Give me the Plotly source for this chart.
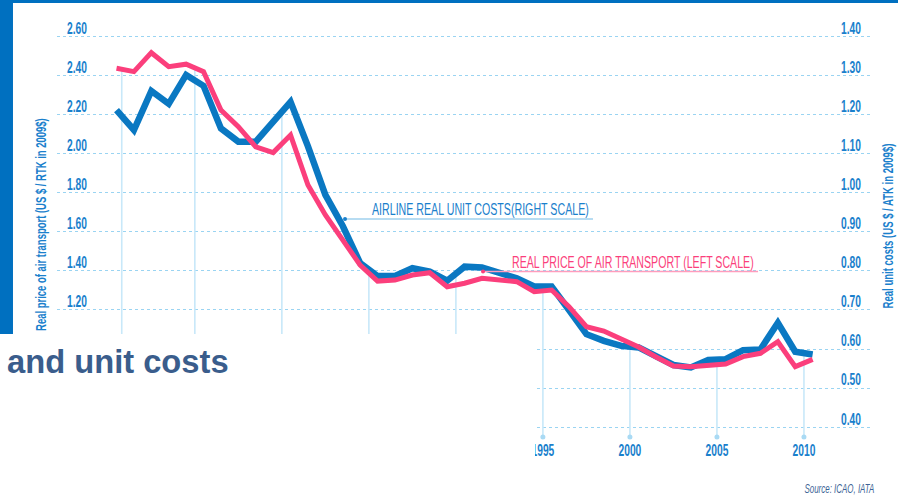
import numpy as np
import plotly.graph_objects as go

# Annual series, 1970-2010
years = list(range(1970, 2011))
unit_costs = [1.212, 1.161, 1.261, 1.228, 1.302, 1.274, 1.165, 1.131, 1.131, 1.182,
              1.233, 1.119, 0.995, 0.915, 0.820, 0.787, 0.787, 0.807, 0.798, 0.775,
              0.811, 0.809, 0.797, 0.781, 0.760, 0.760, 0.700, 0.638, 0.621, 0.608,
              0.604, 0.582, 0.559, 0.553, 0.572, 0.574, 0.597, 0.599, 0.667, 0.593, 0.586]
real_price = [2.438, 2.421, 2.518, 2.446, 2.459, 2.421, 2.224, 2.139, 2.036, 2.006,
              2.096, 1.840, 1.687, 1.558, 1.430, 1.348, 1.353, 1.379, 1.391, 1.319,
              1.337, 1.362, 1.353, 1.345, 1.294, 1.302, 1.217, 1.114, 1.092, 1.051,
              1.010, 0.959, 0.913, 0.909, 0.918, 0.923, 0.961, 0.978, 1.037, 0.910, 0.947]

# Axis ticks
x_tick_years = [1975, 1980, 1985, 1990, 1995, 2000, 2005, 2010]
x_tick_labels = ["1975", "1980", "1985", "1990", "1995", "2000", "2005", "2010"]
left_ticks = [1.2, 1.4, 1.6, 1.8, 2.0, 2.2, 2.4, 2.6]
left_tick_labels = ["1.20", "1.40", "1.60", "1.80", "2.00", "2.20", "2.40", "2.60"]
right_ticks = [0.4, 0.5, 0.6, 0.7, 0.8, 0.9, 1.0, 1.1, 1.2, 1.3, 1.4]
right_tick_labels = ["0.40", "0.50", "0.60", "0.70", "0.80", "0.90", "1.00", "1.10", "1.20", "1.30", "1.40"]
drop_years = [1970.8, 1975, 1980, 1985, 1990, 1995, 2000, 2005, 2010]

BLUE = "#0a78c2"
PINK = "#fb3f7c"
TXT_BLUE = "#1a80cc"
DROP = "#c8e8f9"
GRID = "#9ad4f2"
SANS = "Liberation Sans, Arial, sans-serif"

# annual values are plotted at mid-year
xs = np.array(years) + 0.5

# axis ranges (left scale = 2 * right scale - 0.2)
X0, X1 = 1967.08, 2013.91
L0, L1 = 0.5493, 2.711
R0, R1 = (L0 + 0.2) / 2, (L1 + 0.2) / 2


def to_right(v):
    return (np.asarray(v) + 0.2) / 2


fig = go.Figure()

# drop lines from the upper curve down to the axis
drop_x, drop_y = [], []
for d in drop_years:
    top = max(np.interp(d, xs, unit_costs), np.interp(d, xs, to_right(real_price)))
    drop_x += [d, d, None]
    drop_y += [top, R0, None]
fig.add_trace(go.Scatter(x=drop_x, y=drop_y, mode="lines", yaxis="y",
                         line=dict(color=DROP, width=1.6), hoverinfo="skip"))
fig.add_trace(go.Scatter(x=drop_years, y=[R0] * len(drop_years), mode="markers", yaxis="y",
                         marker=dict(color="#a9daf4", size=5), cliponaxis=False,
                         hoverinfo="skip"))

# airline real unit costs (right scale)
fig.add_trace(go.Scatter(x=xs, y=unit_costs, mode="lines", yaxis="y",
                         line=dict(color=BLUE, width=6.5),
                         name="Airline real unit costs"))
# real price of air transport (left scale)
fig.add_trace(go.Scatter(x=xs, y=real_price, mode="lines", yaxis="y2",
                         line=dict(color=PINK, width=5),
                         name="Real price of air transport"))

tickfont = dict(family=SANS, size=16, color=TXT_BLUE, weight="bold")

fig.update_layout(
    width=898, height=504,
    margin=dict(l=57, r=26, t=15, b=67),
    paper_bgcolor="white", plot_bgcolor="white",
    showlegend=False,
    xaxis=dict(range=[X0, X1], tickvals=x_tick_years, ticktext=x_tick_labels,
               showgrid=False, zeroline=False, showline=False, ticks="",
               ticklabelstandoff=2, tickfont=tickfont),
    yaxis=dict(side="right", range=[R0, R1], tickvals=right_ticks, ticktext=right_tick_labels,
               ticklabelposition="inside top", ticklabelstandoff=8, ticklabelshift=3,
               showgrid=True, gridcolor=GRID, griddash="dot", gridwidth=1.2,
               zeroline=False, showline=False, tickfont=tickfont),
    yaxis2=dict(side="left", overlaying="y", range=[L0, L1], tickvals=left_ticks,
                ticktext=left_tick_labels, ticklabelposition="inside top",
                ticklabelstandoff=7, ticklabelshift=3,
                showgrid=False, zeroline=False, showline=False, tickfont=tickfont),
)

# series captions with leader lines
fig.add_shape(type="line", xref="x", yref="y2", x0=1983.63, x1=1997.88, y0=1.666, y1=1.666,
              line=dict(color="#9fd0ee", width=1.6), layer="above")
fig.add_shape(type="circle", xref="x", yref="y2", xsizemode="pixel", ysizemode="pixel",
              xanchor=1983.63, yanchor=1.666, x0=-2, x1=2, y0=-2, y1=2,
              fillcolor=TXT_BLUE, line=dict(width=0), layer="above")
fig.add_annotation(text="AIRLINE REAL UNIT COSTS(RIGHT SCALE)", xref="x", yref="y2",
                   x=1985.06, y=1.717, xanchor="left", yanchor="middle", align="left",
                   showarrow=False, font=dict(family=SANS, size=17, color=TXT_BLUE))

fig.add_shape(type="line", xref="x", yref="y2", x0=1991.56, x1=2007.36, y0=1.397, y1=1.397,
              line=dict(color="#ff9dbd", width=1.6), layer="above")
fig.add_shape(type="circle", xref="x", yref="y2", xsizemode="pixel", ysizemode="pixel",
              xanchor=1991.56, yanchor=1.397, x0=-2, x1=2, y0=-2, y1=2,
              fillcolor=PINK, line=dict(width=0), layer="above")
fig.add_annotation(text="REAL PRICE OF AIR TRANSPORT (LEFT SCALE)", xref="x", yref="y2",
                   x=1993.11, y=1.441, xanchor="left", yanchor="middle", align="left",
                   showarrow=False, font=dict(family=SANS, size=17, color=PINK))

# axis titles
fig.add_annotation(text="Real price of air transport (US $ / RTK in 2009$)", xref="paper", yref="paper",
                   x=-0.0196, y=0.503, xanchor="center", yanchor="middle", textangle=-90,
                   showarrow=False, font=dict(family=SANS, size=14, color=TXT_BLUE, weight="bold"))
fig.add_annotation(text="Real unit costs (US $ / ATK in 2009$)", xref="paper", yref="paper",
                   x=1.0196, y=0.5, xanchor="center", yanchor="middle", textangle=-90,
                   showarrow=False, font=dict(family=SANS, size=14, color=TXT_BLUE, weight="bold"))

# page frame: blue rules and the white heading panel
fig.add_shape(type="rect", xref="paper", yref="paper", x0=-0.0700, x1=-0.0540, y0=0.2441, y1=1.04,
              fillcolor="#0070c0", line=dict(width=0), layer="above")
fig.add_shape(type="rect", xref="paper", yref="paper", x0=-0.0700, x1=1.04, y0=1.0284, y1=1.04,
              fillcolor="#0070c0", line=dict(width=0), layer="above")
fig.add_shape(type="rect", xref="paper", yref="paper", x0=-0.0700, x1=0.5865, y0=-0.17, y1=0.2441,
              fillcolor="white", line=dict(width=0), layer="above")
fig.add_annotation(text="<b>and unit costs</b>", xref="paper", yref="paper",
                   x=-0.0640, y=0.180, xanchor="left", yanchor="middle", showarrow=False,
                   font=dict(family=SANS, size=32.7, color="#3a5d8c"))

fig.add_annotation(text="Source: ICAO, IATA", xref="paper", yref="paper",
                   x=1.0049, y=-0.1232, xanchor="right", yanchor="middle", align="right",
                   showarrow=False, font=dict(family=SANS, size=13, color="#3d6496", style="italic"))

# condensed lettering: narrow the tick labels and captions horizontally
# around their own anchor point, and the caption boxes with them
condense_js = """
var gd = document.getElementById('{plot_id}');
function narrow(el, ax, f) {
  var tr = el.getAttribute('transform') || '';
  el.setAttribute('transform', (tr + ' translate(' + ax + ',0) scale(' + f + ',1) translate(' + (-ax) + ',0)').trim());
}
function narrowText(t, f) {
  if (!t || !(f > 0)) return;
  narrow(t, parseFloat(t.getAttribute('x')) || 0, f);
}
gd.querySelectorAll('.xtick text, .ytick text, .y2tick text').forEach(function(t) {
  narrowText(t, 0.64);
});
var widths = {0: 217, 1: 242, 2: 213, 3: 165, 5: 70};
gd.querySelectorAll('.annotation').forEach(function(g) {
  var i = +g.getAttribute('data-index');
  if (!widths.hasOwnProperty(i)) return;
  var t = g.querySelector('text.annotation-text');
  if (!t) return;
  var f = widths[i] / t.getComputedTextLength();
  var ax = parseFloat(t.getAttribute('x')) || 0;
  narrow(t, ax, f);
  var r = g.querySelector('rect.bg');
  if (r) narrow(r, ax, f);
});
"""

fig.write_html("out.html", post_script=condense_js)
